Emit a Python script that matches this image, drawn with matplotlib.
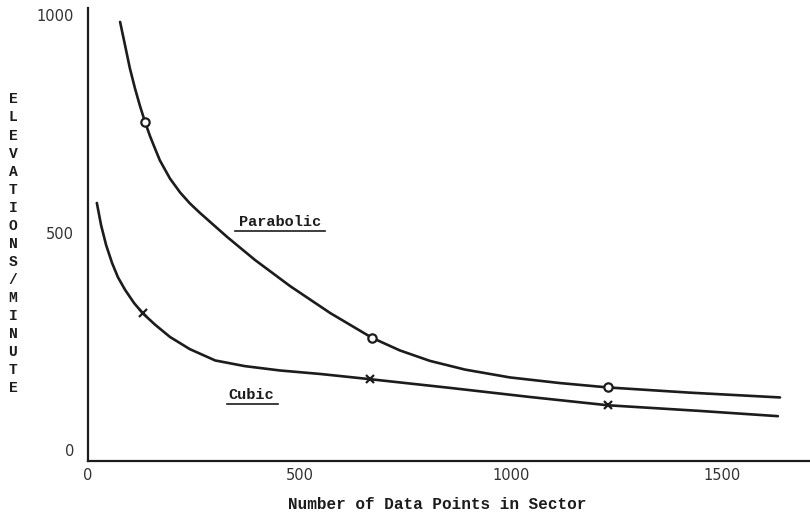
import matplotlib.pyplot as plt

# Elevations per minute versus sector size
para_x = [76, 88, 99, 111, 123, 135, 147, 159, 170, 194, 218, 241, 265, 329,
          395, 478, 573, 672, 738, 809, 892, 998, 1117, 1230, 1424, 1637]
para_y = [984, 929, 878, 832, 791, 754, 721, 692, 666, 624, 592, 567, 545, 490,
          437, 377, 315, 258, 229, 205, 185, 167, 154, 144, 132, 121]

cubic_x = [21, 31, 43, 57, 71, 88, 109, 130, 159, 194, 241, 301, 371, 454,
           549, 667, 856, 1046, 1230, 1448, 1632]
cubic_y = [568, 517, 471, 430, 397, 368, 338, 314, 288, 260, 232, 206, 193, 183,
           175, 163, 143, 122, 103, 90, 78]

# measured points marked on each curve
para_pts_x = [135, 672, 1230]
para_pts_y = [754, 258, 144]
cubic_pts_x = [130, 667, 1230]
cubic_pts_y = [314, 163, 103]

x_ticks = [0, 500, 1000, 1500]
y_ticks = [0, 500, 1000]

typewriter = "Liberation Mono"
ink = "#1c1c1c"

fig = plt.figure(figsize=(8.1, 5.19), dpi=100)
ax = fig.add_axes([0.1086, 0.1118, 0.8914, 0.8728])

ax.plot(para_x, para_y, color=ink, lw=1.9, solid_capstyle="round",
        solid_joinstyle="round")
ax.plot(cubic_x, cubic_y, color=ink, lw=1.9, solid_capstyle="round",
        solid_joinstyle="round")
ax.plot(para_pts_x, para_pts_y, "o", ms=6, mfc="white", mec=ink, mew=1.6)
ax.plot(cubic_pts_x, cubic_pts_y, "x", ms=6, mec=ink, mew=1.6)

ax.set_xlim(0, 1708)
ax.set_ylim(-25, 1016)

for side in ("top", "right"):
    ax.spines[side].set_visible(False)
for side in ("left", "bottom"):
    ax.spines[side].set_linewidth(1.6)
    ax.spines[side].set_color(ink)

ax.set_xticks(x_ticks)
ax.set_yticks(y_ticks)
ax.set_xticklabels([str(v) for v in x_ticks])
ax.set_yticklabels([str(v) for v in y_ticks])
ax.tick_params(axis="both", length=0, labelsize=10.5, labelcolor="#333333")
ax.tick_params(axis="x", pad=5)
ax.tick_params(axis="y", pad=10)

# curve labels, underlined like the typed originals
ax.text(454, 524, "Parabolic", family=typewriter, weight="bold", fontsize=11,
        ha="center", va="center", color=ink)
ax.plot([347, 560], [504, 504], color=ink, lw=1.2)
ax.text(385, 127, "Cubic", family=typewriter, weight="bold", fontsize=11,
        ha="center", va="center", color=ink)
ax.plot([328, 449], [106, 106], color=ink, lw=1.2)

fig.text(0.54, 0.013, "Number of Data Points in Sector", family=typewriter,
         weight="bold", fontsize=11.5, ha="center", va="bottom", color=ink)

fig.text(0.016, 0.53, "\n".join("ELEVATIONS/MINUTE"), family=typewriter,
         weight="bold", fontsize=10.5, ha="center", va="center",
         linespacing=1.37, color=ink)

fig.savefig("out.png", dpi=100)
